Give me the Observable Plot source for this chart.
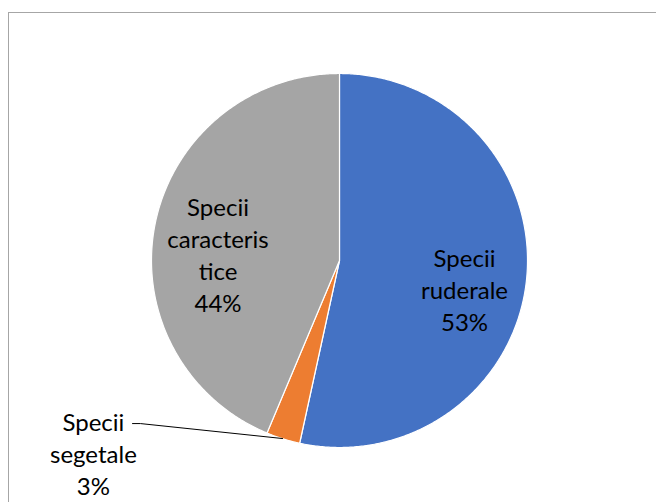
<!DOCTYPE html>
<html>
<head>
<meta charset="utf-8">
<script src="https://cdn.jsdelivr.net/npm/d3@7"></script>
<script src="https://cdn.jsdelivr.net/npm/@observablehq/plot@0.6"></script>
<style>
  html, body { margin: 0; padding: 0; background: #fff; }
  #wrap { position: relative; width: 656px; height: 502px; overflow: hidden; }
  #frame { position: absolute; left: 8px; top: 12px; width: 700px; height: 600px; border: 1px solid #a6a6a6; box-sizing: border-box; }
  #chart { position: absolute; left: 0; top: 0; }
</style>
</head>
<body>
<div id="wrap"><div id="frame"></div><div id="chart"></div></div>
<script>
const categories = ["Specii ruderale", "Specii segetale", "Specii caracteristice"];
const values = [53.4, 2.9, 43.7];
const labelTexts = ["Specii\nruderale\n53%", "Specii\nsegetale\n3%", "Specii\ncaracteris\ntice\n44%"];
const colors = ["#4472C4", "#ED7D31", "#A5A5A5"];

// slice polygons in unit-circle coordinates (start at 12 o'clock, clockwise)
const pie = d3.pie().sort(null).value(d => d)(values);
const slices = pie.map((p, i) => {
  const pts = [{x: 0, y: 0}];
  const n = Math.max(2, Math.ceil((p.endAngle - p.startAngle) / (Math.PI / 360)));
  for (let k = 0; k <= n; k++) {
    const a = p.startAngle + (p.endAngle - p.startAngle) * k / n;
    pts.push({x: Math.sin(a), y: Math.cos(a)});
  }
  pts.push({x: 0, y: 0});
  return pts;
});

// label anchor positions (chart coordinates, radius = 1)
const labelPos = [
  {x: 0.665, y: -0.150, i: 0},
  {x: -1.309, y: -1.027, i: 1},
  {x: -0.646, y: 0.035, i: 2}
];
const leader = [{x: -1.101, y: -0.872}, {x: -1.059, y: -0.872}, {x: -0.303, y: -0.952}];

const marks = slices.map((pts, i) =>
  Plot.line(pts, {x: "x", y: "y", fill: colors[i], stroke: "#fff", strokeWidth: 1.2, curve: "linear"})
);
marks.push(Plot.line(leader, {x: "x", y: "y", stroke: "#000", strokeWidth: 1}));
marks.push(Plot.text(labelPos, {
  x: "x", y: "y", text: d => labelTexts[d.i],
  fill: "#000", fontSize: 24, lineHeight: 1.34, textAnchor: "middle"
}));

const chart = Plot.plot({
  width: 656, height: 502,
  marginLeft: 151, marginRight: 129, marginTop: 73, marginBottom: 55,
  x: {domain: [-1, 1], axis: null},
  y: {domain: [-1, 1], axis: null},
  style: {fontFamily: "Lato, 'Open Sans', sans-serif", background: "transparent", overflow: "visible"},
  marks
});
document.getElementById("chart").appendChild(chart);
</script>
</body>
</html>
